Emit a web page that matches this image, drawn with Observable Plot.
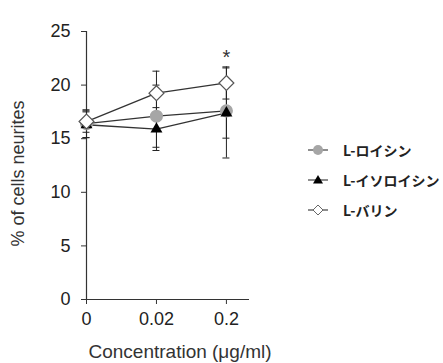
<!DOCTYPE html>
<html><head><meta charset="utf-8">
<script src="https://cdn.jsdelivr.net/npm/d3@7"></script>
<script src="https://cdn.jsdelivr.net/npm/@observablehq/plot@0.6"></script>
<style>
body{margin:0;background:#fff;}
#wrap{position:relative;width:443px;height:363px;}
#legend{position:absolute;left:306px;top:135px;font-family:"Noto Sans CJK JP",sans-serif;font-weight:bold;font-size:14px;color:#222;}
.row{display:flex;align-items:center;height:30px;}
.row svg{margin-right:13px;}
</style>
</head><body>
<div id="wrap"><div id="legend"></div></div>
<script>
const categories = ["0", "0.02", "0.2"];
const seriesNames = ["L-ロイシン", "L-イソロイシン", "L-バリン"];
const leucine = [16.4, 17.1, 17.6];
const leucineErr = [1.3, 2.9, 2.55];
const isoleucine = [16.3, 15.9, 17.4];
const isoleucineErr = [1.2, 2.0, 4.2];
const valine = [16.6, 19.25, 20.2];
const valineErr = [1.0, 2.05, 1.5];
const yTicks = [0, 5, 10, 15, 20, 25];
const significance = [{cat: "0.2", y: 22.6, label: "*"}];

const build = (name, vals, errs) => vals.map((v, i) => ({series: name, i, cat: categories[i], v, lo: v - errs[i], hi: v + errs[i]}));
const leu = build(seriesNames[0], leucine, leucineErr);
const ile = build(seriesNames[1], isoleucine, isoleucineErr);
const val = build(seriesNames[2], valine, valineErr);
const all = [...leu, ...ile, ...val];
const sig = significance.map(d => ({...d, i: categories.indexOf(d.cat)}));
const capHalf = 0.05;

const plot = Plot.plot({
  width: 443, height: 363,
  marginLeft: 86, marginRight: 194, marginTop: 31, marginBottom: 64,
  style: {fontFamily: "'Liberation Sans', Arial, sans-serif", fontSize: "18px", color: "#222"},
  x: {type: "linear", domain: [0, 2.33], label: null},
  y: {domain: [0, 25], label: null},
  marks: [
    Plot.axisY({ticks: yTicks, tickSize: 5, tickPadding: 11, label: null, stroke: "#333"}),
    Plot.axisX({ticks: categories.map((c, i) => i), tickFormat: i => categories[i], tickSize: 5, tickPadding: 8, label: null, stroke: "#333"}),
    Plot.ruleX([0], {stroke: "#333", strokeWidth: 1.2}),
    Plot.ruleY([0], {stroke: "#333", strokeWidth: 1.2}),
    Plot.ruleX(all, {x: "i", y1: "lo", y2: "hi", stroke: "#222", strokeWidth: 1}),
    Plot.ruleY(all, {y: "hi", x1: d => d.i - capHalf, x2: d => d.i + capHalf, stroke: "#222", strokeWidth: 1}),
    Plot.ruleY(all, {y: "lo", x1: d => d.i - capHalf, x2: d => d.i + capHalf, stroke: "#222", strokeWidth: 1}),
    Plot.line(leu, {x: "i", y: "v", stroke: "#333", strokeWidth: 1.3}),
    Plot.line(ile, {x: "i", y: "v", stroke: "#333", strokeWidth: 1.3}),
    Plot.line(val, {x: "i", y: "v", stroke: "#333", strokeWidth: 1.3}),
    Plot.dot(leu, {x: "i", y: "v", r: 5.8, fill: "#a6a6a6", stroke: "#a6a6a6"}),
    Plot.dot(ile, {x: "i", y: "v", r: 5.7, symbol: "triangle2", fill: "#000"}),
    Plot.dot(val, {x: "i", y: "v", r: 6.7, symbol: "diamond2", fill: "#fff", stroke: "#555", strokeWidth: 1.2}),
    Plot.text(sig, {x: "i", y: "y", text: "label", fontSize: 20, fill: "#333"}),
    Plot.text(["% of cells neurites"], {frameAnchor: "left", textAnchor: "middle", dx: -68, dy: 8, rotate: -90, fontSize: 18, fill: "#333"}),
    Plot.text(["Concentration (\u03bcg/ml)"], {frameAnchor: "bottom", dx: 12, dy: 58, fontSize: 19, fill: "#333"})
  ]
});
document.getElementById("wrap").prepend(plot);

const legend = document.getElementById("legend");
const symbolSvg = [
  '<circle cx="12" cy="8" r="5" fill="#a6a6a6"/>',
  '<path d="M12,3 L17,11.5 L7,11.5 Z" fill="#000"/>',
  '<path d="M12,3 L17,8 L12,13 L7,8 Z" fill="#fff" stroke="#666" stroke-width="1"/>'
];
seriesNames.forEach((n, k) => {
  const row = document.createElement("div");
  row.className = "row";
  row.innerHTML = `<svg width="24" height="16"><line x1="2" x2="22" y1="8" y2="8" stroke="#444" stroke-width="1.2"/>${symbolSvg[k]}</svg><span>${n}</span>`;
  legend.appendChild(row);
});
</script>
</body></html>
